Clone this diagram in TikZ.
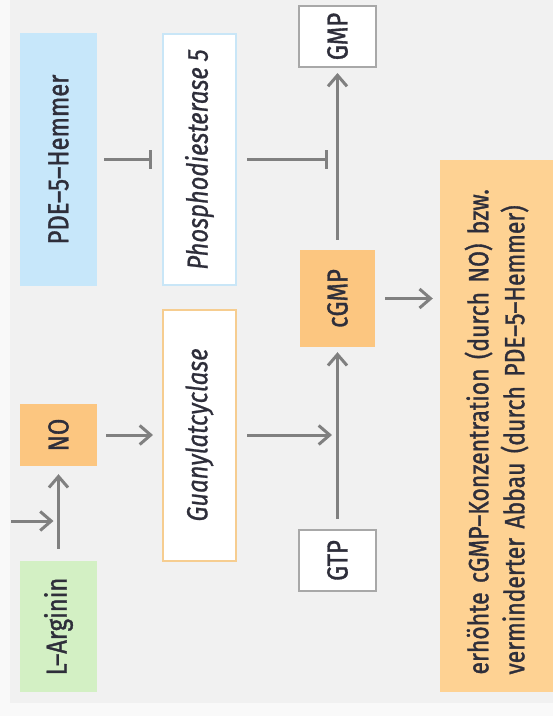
\documentclass[tikz,border=0pt]{standalone}
\usepackage{fontspec}
\setmainfont{Fira Sans}[FakeStretch=0.82, UprightFeatures={FakeBold=1.2}, ItalicFeatures={FakeBold=0.8}]
\usetikzlibrary{arrows.meta}
\definecolor{bgc}{HTML}{F1F1F1}
\definecolor{pagec}{HTML}{F9F9F9}
\definecolor{bluef}{HTML}{C7E7FA}
\definecolor{blueb}{HTML}{C9E6F7}
\definecolor{orangef}{HTML}{FCC680}
\definecolor{orangeb}{HTML}{F6CD90}
\definecolor{resf}{HTML}{FED293}
\definecolor{greenf}{HTML}{D3F0C4}
\definecolor{grayb}{HTML}{A8A8A8}
\definecolor{linec}{HTML}{808080}
\definecolor{txt}{HTML}{2E2E3A}
\begin{document}
\begin{tikzpicture}[x=1pt,y=-1pt,
  lbl/.style={rotate=90, inner sep=0pt, text=txt, font=\fontsize{29}{36}\selectfont},
  filled/.style={lbl, fill=#1},
  framed/.style={lbl, fill=white, draw=#1, line width=2pt},
  arr/.style={draw=linec, line width=3pt, -{Straight Barb[length=11pt,width=19pt]}},
  inh/.style={draw=linec, line width=3pt, -{Bar[width=19pt]}}]
\clip (0,0) rectangle (553,716);
\fill[pagec] (0,0) rectangle (553,716);
\fill[bgc] (10,0) rectangle (553,703);
% nodes
\node[filled=bluef, minimum width=253pt, minimum height=77pt] (pde) at (58.5,159.5) {PDE–5–Hemmer};
\node[framed=blueb, minimum width=251pt, minimum height=73pt] (pde5) at (199.5,159.5) {\itshape Phosphodiesterase 5};
\node[framed=orangeb, minimum width=251pt, minimum height=73pt] (gc) at (199.5,435) {\itshape Guanylatcyclase};
\node[filled=orangef, minimum width=62pt, minimum height=77pt] (no) at (58.5,435) {NO};
\node[filled=greenf, minimum width=131pt, minimum height=77pt] (arg) at (58.5,626.5) {L–Arginin};
\node[framed=grayb, minimum width=61pt, minimum height=77pt] (gtp) at (337.5,560.5) {GTP};
\node[filled=orangef, minimum width=97pt, minimum height=75pt] (cgmp) at (337.5,298.5) {cGMP};
\node[framed=grayb, minimum width=61pt, minimum height=77pt] (gmp) at (337.5,36.5) {GMP};
\node[filled=resf, minimum width=532pt, minimum height=113pt, text width=497pt, align=left, font=\fontsize{28}{36}\selectfont] (res) at (496.5,426)
  {erhöhte cGMP–Konzentration (durch NO) bzw.\\verminderter Abbau (durch PDE–5–Hemmer)};
% junction coordinates
\coordinate (j1) at (338,159.5);
\coordinate (j2) at (338,435);
\coordinate (lin) at (11,521);
\coordinate (j3) at (58.5,521);
% connectors
\draw[inh, shorten <=7pt, shorten >=10pt] (pde) -- (pde5);
\draw[inh, shorten <=10pt, shorten >=10pt] (pde5) -- (j1);
\draw[arr, shorten <=9pt, shorten >=9pt] (no) -- (gc);
\draw[arr, shorten <=10pt, shorten >=6pt] (gc) -- (j2);
\draw[arr, shorten <=12pt, shorten >=8pt] (arg) -- (no);
\draw[arr, shorten >=5pt] (lin) -- (j3);
\draw[arr, shorten <=10pt, shorten >=5pt] (gtp) -- (cgmp);
\draw[arr, shorten <=10pt, shorten >=5pt] (cgmp) -- (gmp);
\draw[arr, shorten <=10pt, shorten >=7pt] (cgmp.south) -- (cgmp.south -| res.north);
\end{tikzpicture}
\end{document}
